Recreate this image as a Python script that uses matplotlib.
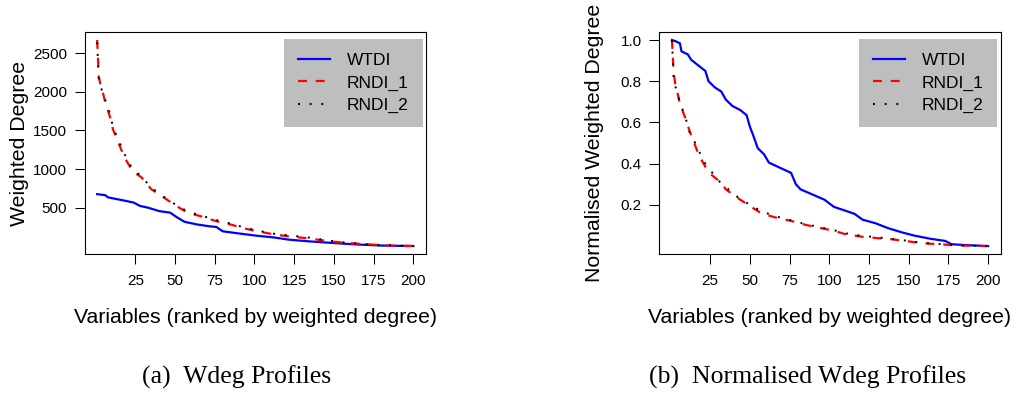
"""Weighted-degree profiles: raw (a) and normalised (b), WTDI vs two random baselines."""

import matplotlib

matplotlib.use("Agg")
import matplotlib.pyplot as plt

plt.rcParams["font.family"] = ["Liberation Sans", "DejaVu Sans"]

# --- (a) raw weighted degree ---
WTDI_RANK = [1, 6, 8, 17, 24, 28, 33, 40, 47, 51, 56, 64, 72, 76, 80, 91, 101,
             112, 122, 135, 150, 164, 179, 200]
WTDI_WDEG = [675, 662, 632, 596, 566, 522, 500, 456, 435, 378, 317, 282, 258,
             250, 194, 164, 138, 115, 85, 63, 42, 24, 10, 3]

RNDI_RANK = [1, 2, 3, 4, 6, 9, 11, 15, 18, 23, 29, 35, 43, 51, 58, 66, 76, 85,
             94, 104, 113, 122, 132, 140, 150, 159, 169, 179, 190, 200]
RNDI1_WDEG = [2670, 2200, 2100, 2040, 1870, 1680, 1510, 1310, 1160, 980, 890,
              740, 630, 520, 435, 390, 325, 282, 229, 186, 151, 128, 107, 85,
              59, 42, 29, 16, 7, 5]
RNDI2_WDEG = [2640, 2150, 2110, 2010, 1900, 1720, 1540, 1350, 1200, 1010, 900,
              760, 640, 530, 450, 400, 340, 295, 240, 195, 160, 140, 120, 95,
              65, 45, 30, 17, 8, 5]

# --- (b) normalised weighted degree ---
WTDI_NRANK = [1, 3, 6, 7, 11, 13, 17, 22, 24, 28, 32, 35, 39, 44, 48, 50, 52,
              55, 59, 62, 69, 76, 79, 82, 91, 97, 103, 110, 116, 121, 129, 137,
              146, 154, 164, 173, 177, 185, 200]
WTDI_NORM = [1.0, 0.995, 0.984, 0.945, 0.93, 0.905, 0.88, 0.85, 0.80, 0.77,
             0.75, 0.71, 0.68, 0.66, 0.635, 0.58, 0.54, 0.475, 0.445, 0.405,
             0.38, 0.355, 0.30, 0.275, 0.245, 0.225, 0.19, 0.172, 0.156, 0.128,
             0.111, 0.087, 0.066, 0.05, 0.035, 0.025, 0.009, 0.005, 0.0]

RNDI_NRANK = [1, 2, 3, 4, 6, 8, 10, 12, 15, 18, 22, 26, 30, 35, 42, 49, 57, 66,
              76, 85, 95, 104, 110, 120, 131, 139, 148, 158, 169, 181, 200]
RNDI1_NORM = [1.0, 0.85, 0.79, 0.76, 0.69, 0.65, 0.61, 0.56, 0.50, 0.44, 0.385,
              0.345, 0.32, 0.275, 0.235, 0.20, 0.16, 0.139, 0.122, 0.103, 0.087,
              0.072, 0.058, 0.046, 0.038, 0.033, 0.025, 0.014, 0.009, 0.003, 0.0]
RNDI2_NORM = [1.0, 0.82, 0.78, 0.75, 0.70, 0.655, 0.61, 0.555, 0.51, 0.46, 0.40,
              0.36, 0.32, 0.285, 0.24, 0.205, 0.17, 0.145, 0.125, 0.106, 0.09,
              0.075, 0.062, 0.05, 0.042, 0.035, 0.027, 0.016, 0.01, 0.004, 0.0]

X_TICKS = [25, 50, 75, 100, 125, 150, 175, 200]
Y_TICKS_RAW = [500, 1000, 1500, 2000, 2500]
Y_TICKS_NORM = [0.2, 0.4, 0.6, 0.8, 1.0]
LABELS = ["WTDI", "RNDI_1", "RNDI_2"]


def r_limits(lo, hi):
    # R's default 4% axis extension
    pad = (hi - lo) * 0.04
    return lo - pad, hi + pad


def panel(ax, series, yticks, ylabel, yfmt):
    (r0, w), (r1, a), (r2, b) = series
    ax.plot(r0, w, color="#0000ff", lw=1.6, label=LABELS[0])
    ax.plot(r1, a, color="#ff0000", lw=1.6, dashes=(4, 4), label=LABELS[1])
    ax.plot(r2, b, color="black", lw=1.4, dashes=(1, 5), label=LABELS[2])

    ax.set_xlim(*r_limits(1, 200))
    lo = min(min(w), min(a), min(b))
    hi = max(max(w), max(a), max(b))
    ax.set_ylim(*r_limits(lo, hi))
    ax.set_xticks(X_TICKS)
    ax.set_yticks(yticks)
    ax.set_yticklabels([yfmt.format(v) for v in yticks])
    ax.tick_params(direction="out", length=7.2, width=0.75, labelsize=11)
    ax.tick_params(axis="x", pad=7)
    ax.tick_params(axis="y", pad=5.5)
    for s in ax.spines.values():
        s.set_linewidth(0.8)

    ax.set_xlabel("Variables (ranked by weighted degree)", fontsize=15.3, va="center")
    ax.xaxis.set_label_coords(0.5, -0.282)
    ax.set_ylabel(ylabel, fontsize=15.3, va="center")
    ax.yaxis.set_label_coords(-0.19, 0.5)

    leg = ax.legend(
        loc="upper right",
        bbox_to_anchor=(0.99, 0.966),
        fontsize=12.5,
        frameon=True,
        fancybox=False,
        facecolor="#bebebe",
        edgecolor="none",
        framealpha=1,
        handlelength=1.85,
        handletextpad=0.95,
        borderpad=0.8,
        labelspacing=0.4,
        borderaxespad=0,
    )
    leg.get_frame().set_linewidth(0)


fig = plt.figure(figsize=(10.17, 3.96), dpi=100)
ax_a = fig.add_axes([0.0831, 0.3578, 0.3358, 0.562])
ax_b = fig.add_axes([0.6483, 0.3578, 0.3357, 0.562])

panel(ax_a,
      [(WTDI_RANK, WTDI_WDEG), (RNDI_RANK, RNDI1_WDEG), (RNDI_RANK, RNDI2_WDEG)],
      Y_TICKS_RAW, "Weighted Degree", "{:.0f}")
panel(ax_b,
      [(WTDI_NRANK, WTDI_NORM), (RNDI_NRANK, RNDI1_NORM), (RNDI_NRANK, RNDI2_NORM)],
      Y_TICKS_NORM, "Normalised Weighted Degree", "{:.1f}")

cap_font = dict(family=["Liberation Serif", "DejaVu Serif"], fontsize=18.5,
                ha="center", va="center")
fig.text(236.7 / 1017, 1 - 377 / 396, "(a)  Wdeg Profiles", **cap_font)
fig.text(807.5 / 1017, 1 - 377 / 396, "(b)  Normalised Wdeg Profiles", **cap_font)

fig.savefig("out.png", dpi=100)
